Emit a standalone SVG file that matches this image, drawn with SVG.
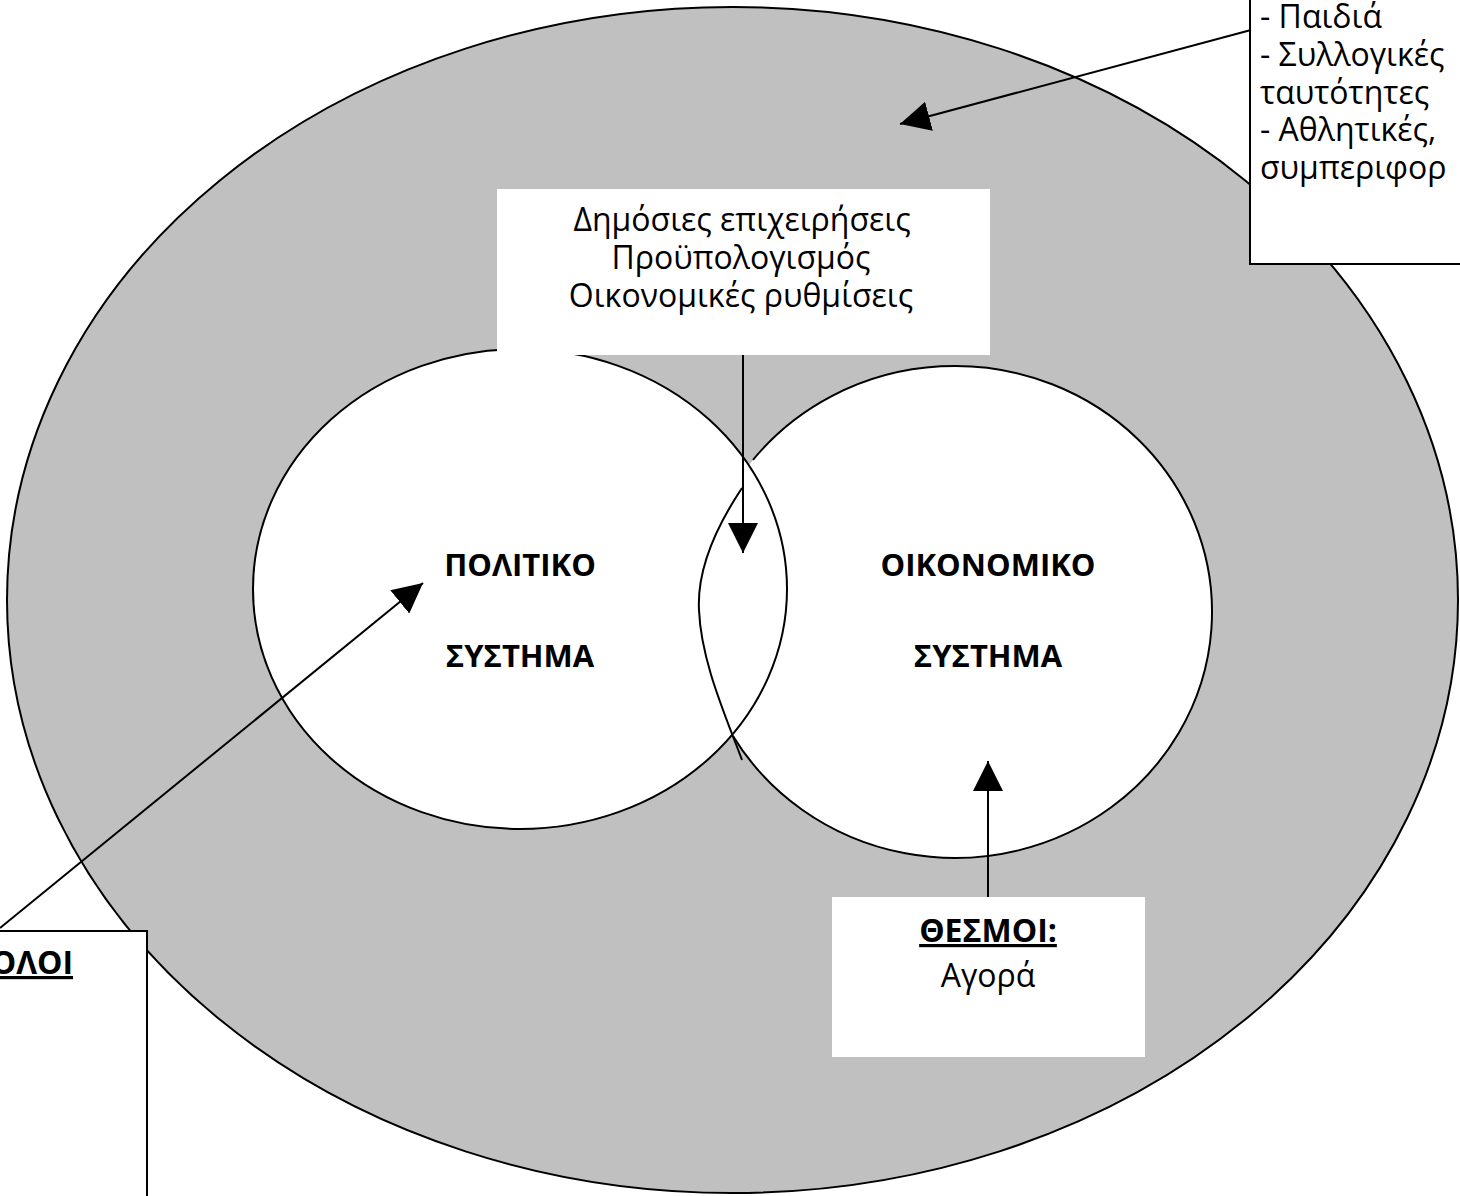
<svg xmlns="http://www.w3.org/2000/svg" width="1460" height="1196" viewBox="0 0 1460 1196">
<style>
.ol{fill:none;stroke:#000;stroke-width:2}
.wf{fill:#fff;stroke:none}
.box{fill:#fff;stroke:#000;stroke-width:2}
.t{font-family:"Open Sans","Liberation Sans",sans-serif;font-size:32px;fill:#000}
.b{font-family:"Open Sans","Liberation Sans",sans-serif;font-size:31px;font-weight:bold;fill:#000}
.tb{font-family:"Open Sans","Liberation Sans",sans-serif;font-size:32px;font-weight:bold;fill:#000;text-decoration:underline}
.c{stroke:#000;stroke-width:2;fill:none}
</style>
<defs>
<marker id="ah" markerUnits="userSpaceOnUse" markerWidth="30" markerHeight="30" viewBox="0 0 26 26" refX="26" refY="13" orient="auto">
<path d="M0,0 L26,13 L0,26 Z" fill="#000"/>
</marker>
</defs>
<g id="society">
<ellipse cx="732.5" cy="600" rx="725.5" ry="593" fill="#c0c0c0" stroke="#000" stroke-width="2"/>
</g>
<g id="fills">
<ellipse class="wf" cx="520" cy="589" rx="267" ry="240"/>
<ellipse class="wf" cx="955" cy="612" rx="257" ry="246"/>
</g>
<g id="political">
<ellipse class="ol" cx="520" cy="589" rx="267" ry="240"/>
<text class="b" x="520" y="576" text-anchor="middle">ΠΟΛΙΤΙΚΟ</text>
<text class="b" x="520" y="667" text-anchor="middle">ΣΥΣΤΗΜΑ</text>
</g>
<g id="economic">
<path class="ol" d="M753,459.9 A257,246 0 1 1 733,735.9"/>
<path class="ol" d="M742,488 C714,530 697,572 699,610 C701,660 724,712 742,760"/>
<text class="b" x="988" y="576" text-anchor="middle">ΟΙΚΟΝΟΜΙΚΟ</text>
<text class="b" x="988" y="667" text-anchor="middle">ΣΥΣΤΗΜΑ</text>
</g>
<g id="public-box">
<rect class="wf" x="497" y="189" width="493" height="166"/>
<text class="t" x="742" y="231" text-anchor="middle">Δημόσιες επιχειρήσεις</text>
<text class="t" x="741" y="269" text-anchor="middle">Προϋπολογισμός</text>
<text class="t" x="741" y="307" text-anchor="middle">Οικονομικές ρυθμίσεις</text>
</g>
<g id="society-box">
<rect class="box" x="1250" y="-10" width="230" height="274"/>
<text class="t" x="1260" y="28">- Παιδιά</text>
<text class="t" x="1260" y="66">- Συλλογικές</text>
<text class="t" x="1260" y="104">ταυτότητες</text>
<text class="t" x="1260" y="141">- Αθλητικές,</text>
<text class="t" x="1260" y="179">συμπεριφορ</text>
</g>
<g id="roles-box">
<rect class="box" x="-10" y="931" width="157" height="280"/>
<text class="tb" x="73" y="974" text-anchor="end">ΟΛΟΙ</text>
</g>
<g id="institutions-box">
<rect class="wf" x="832" y="897" width="313" height="160"/>
<text class="tb" x="988" y="942" text-anchor="middle">ΘΕΣΜΟΙ:</text>
<text class="t" x="988" y="987" text-anchor="middle">Αγορά</text>
</g>
<g id="connectors">
<line class="c" x1="743" y1="355" x2="743" y2="553" marker-end="url(#ah)"/>
<line class="c" x1="1251" y1="30" x2="900" y2="124" marker-end="url(#ah)"/>
<line class="c" x1="0" y1="928" x2="423" y2="583" marker-end="url(#ah)"/>
<line class="c" x1="988" y1="897" x2="988" y2="761" marker-end="url(#ah)"/>
</g>
</svg>
